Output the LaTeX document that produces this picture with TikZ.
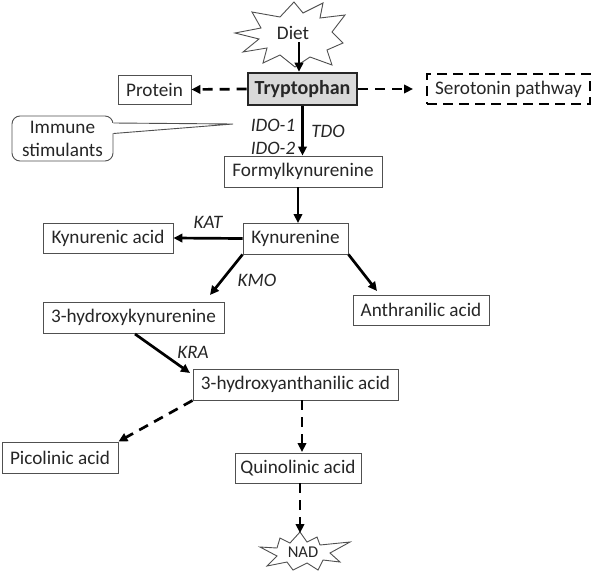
\documentclass[tikz,border=0pt]{standalone}
\usepackage{fontspec}
\setmainfont{Carlito}
\usetikzlibrary{arrows.meta,calc}
\definecolor{txt}{HTML}{262626}
\definecolor{boxline}{HTML}{505050}
\definecolor{tryfill}{HTML}{D9D9D9}
\tikzset{
  x=1pt,y=-1pt,
  every node/.style={font=\fontsize{19.2}{22}\selectfont, text=txt},
  box/.style={draw=boxline, line width=0.9pt, fill=white, inner sep=0pt, minimum height=31pt},
  lbl/.style={font=\fontsize{19}{22}\selectfont\itshape, inner sep=0pt},
  arr/.style={line width=2.7pt, -{Triangle[length=9pt,width=8.5pt]}},
  darr/.style={arr, dash pattern=on 10pt off 7pt},
}
\begin{document}
\begin{tikzpicture}
\useasboundingbox (0,0) rectangle (596,570);

% Diet starburst
\draw[boxline, line width=0.9pt, fill=white]
  (235,33) -- (261,28) -- (252,12) -- (280,17) -- (294,2) -- (303,13) -- (323,3)
  -- (320,18) -- (345,15) -- (332,32) -- (343,43) -- (327,50) -- (332,65)
  -- (310,57) -- (295,67) -- (280,55) -- (263,63) -- (267,48) -- (243,52)
  -- (259,39) -- cycle;
\node[inner sep=0pt] (diet) at (293,33) {Diet};

% NAD starburst
\draw[boxline, line width=0.9pt, fill=white]
  (260,547) -- (277,548) -- (280,538) -- (290,543) -- (300,532) -- (307,542)
  -- (317,537) -- (320,545) -- (350,542) -- (330,553) -- (340,562) -- (323,560)
  -- (318,570) -- (307,563) -- (293,570) -- (287,562) -- (267,566) -- (277,556)
  -- cycle;
\node[inner sep=0pt, font=\fontsize{16.5}{19}\selectfont] (nad) at (303,552) {NAD};

% Boxes
\node[box, line width=2.6pt, draw=black!85, fill=tryfill, minimum width=109pt, minimum height=32pt,
      font=\fontsize{20}{22}\selectfont\bfseries] (tryp) at (302.5,89) {Tryptophan};
\node[box, minimum width=73pt, minimum height=29pt] (protein) at (154.5,89.5) {Protein};
\node[box, draw=black, line width=2.6pt, dash pattern=on 10pt off 6pt, minimum width=163pt, minimum height=30pt] (sero) at (508.5,89) {Serotonin pathway};
\node[box, rounded corners=8pt, minimum width=101pt, minimum height=45pt, align=center,
      font=\fontsize{19.2}{23}\selectfont] (immune) at (62.5,138.5) {Immune\\stimulants};
\node[box, minimum width=158pt] (formyl) at (303,171.5) {Formylkynurenine};
\node[box, minimum width=105pt] (kyn) at (295.5,238.5) {Kynurenine};
\node[box, minimum width=130pt, minimum height=30pt] (kynac) at (108,238) {Kynurenic acid};
\node[box, minimum width=181pt] (hk) at (133.5,317.5) {3-hydroxykynurenine};
\node[box, minimum width=136pt, minimum height=30pt] (anth) at (421,310) {Anthranilic acid};
\node[box, minimum width=205pt] (haa) at (295.5,384.5) {3-hydroxyanthanilic acid};
\node[box, minimum width=116pt] (pic) at (60,457.5) {Picolinic acid};
\node[box, minimum width=126pt, minimum height=30pt] (quin) at (298,468) {Quinolinic acid};

% Callout pointer
\coordinate (ido) at (233,124);
\fill[white] ($(immune.east)+(-1.5,-15.5)$) -- (ido) -- ($(immune.east)+(-1.5,-5)$) -- cycle;
\draw[boxline, line width=0.9pt] ($(immune.east)+(0,-15.5)$) -- (ido) -- ($(immune.east)+(0,-5)$);

% Enzyme labels
\node[lbl] (ido1) at (273,125) {IDO-1};
\node[lbl] (ido2) at (273,148) {IDO-2};
\node[lbl] (tdo) at (328,131) {TDO};
\node[lbl] (kat) at (208,222) {KAT};
\node[lbl] (kmo) at (257,280) {KMO};
\node[lbl] (kra) at (193,352) {KRA};

% Free ends
\coordinate (dietout) at (299,42);
\coordinate (seroin) at (413,89);
\coordinate (hkin) at (210,295);
\coordinate (anthin) at (377,291);
\coordinate (hkout) at (135,334);
\coordinate (haain) at (190,373);
\coordinate (quinin) at (302,452);
\coordinate (nadin) at (300,533);

% Connectors
\draw[arr] (dietout) -- (dietout |- tryp.north);
\draw[darr] (tryp.west) -- (protein.east);
\draw[darr] (tryp.east) -- (seroin);
\draw[arr] (tryp.south) -- (tryp.south |- formyl.north);
\draw[arr] (formyl.south -| 298,0) -- (298,223);
\draw[arr] (kyn.west) -- (kynac.east);
\draw[arr] (kyn.south west) -- (hkin);
\draw[arr] (kyn.south east) -- (anthin);
\draw[arr] (hkout) -- (haain);
\draw[darr] (haa.south west) -- (pic.north east);
\draw[darr] (haa.south -| quinin) -- (quinin);
\draw[darr] (quin.south -| nadin) -- (nadin);
\end{tikzpicture}
\end{document}
